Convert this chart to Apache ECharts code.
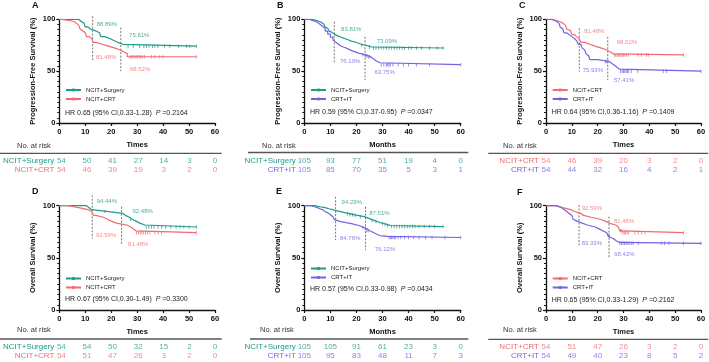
<!DOCTYPE html>
<html>
<head>
<meta charset="utf-8">
<title>KM curves</title>
<script src="https://cdn.jsdelivr.net/npm/echarts@6/dist/echarts.min.js"></script>
<style>
  html, body { margin: 0; padding: 0; background: #fff; }
  #main { width: 709px; height: 362px; }
</style>
</head>
<body>
<div id="main"></div>
<script>
var TEAL = '#1f9a88';
var RED = '#f06b6e';
var PURPLE = '#7064e4';
var FONT = 'Liberation Sans, Arial, sans-serif';

var riskTimes = [0, 10, 20, 30, 40, 50, 60];

// A - PFS, NCIT+Surgery vs NCIT+CRT
var aSurgery = [[0,100],[7.5,98.1],[8.3,96.3],[9.5,94.4],[10,92.6],[11,90.7],[12,88.9],[14,87.0],[15.5,85.2],[16,83.3],[17.5,81.5],[19.5,79.6],[21,77.8],[22.5,75.9],[24.5,74.1],[52.8,74.1]];
var aSurgeryCens = [26.5,28.5,31,32.6,33.6,34.6,35.9,36.8,38,40.5,42.6,46,49,50.3,52.8];
var aCrt = [[0,100],[1,98.1],[5.5,96.3],[6.5,94.4],[7.5,92.6],[8,90.7],[8.5,88.9],[9,87.0],[10,85.2],[10.5,83.3],[11.5,81.5],[12.5,79.6],[13,77.8],[14,75.9],[16.5,74.1],[19,72.2],[21.5,70.4],[23.5,68.5],[25,66.7],[26.2,63.9],[52.8,63.9]];
var aCrtCens = [27.2,27.8,28.4,29,29.6,30.2,30.8,31.4,32,32.8,35.5,36.8,38.7,40,52.8];
var aRiskSurgery = [54, 50, 41, 27, 14, 3, 0];
var aRiskCrt = [54, 46, 39, 19, 3, 2, 0];
var aRates = ['88.89%', '75.61%', '81.48%', '68.52%'];
var aStats = ['0.65', '0.33-1.28', '0.2164'];

// B - PFS, NCIT+Surgery vs CRT+IT
var bSurgery = [[0,100],[3,99],[4.5,98.1],[5.5,97.1],[6.5,96.2],[7,95.2],[7.5,94.3],[8,92.4],[8.5,91.4],[9,89.5],[9.5,88.6],[10,87.6],[10.5,86.7],[11,85.7],[11.5,84.8],[12,83.8],[13,82.9],[14,81.9],[15,81],[16,80],[17,79],[18,78.1],[19.5,77.1],[20.5,76.2],[21.5,75.2],[23,74.3],[24.5,73.3],[26,72.3],[53.3,72.3]];
var bSurgeryCens = [22,25,26.5,27.5,28.5,29.5,30.5,31.5,32.5,33.5,34.5,35.5,36.5,37.5,38.5,40,41,43,45,48,51,53.3];
var bCrtIt = [[0,100],[2,99],[3,98.1],[4,97.1],[5,95.2],[6,93.3],[7,91.4],[8,88.6],[9,85.7],[10,82.9],[11,80],[11.5,78.1],[12,76.2],[13,74.3],[14,73.3],[15,72.4],[16,70.5],[17.5,69.5],[18.5,68.6],[19.5,67.6],[20.5,66.7],[22,65.7],[23.5,64.8],[24.5,63.8],[25.5,61.9],[26.5,60],[27.5,58.1],[29,56.2],[60,56.2]];
var bCrtItCens = [22.5,23.5,24,24.5,25,29.5,30.5,31.5,32,32.5,33,34,36,38,40,43,48,60];
var bRiskSurgery = [105, 93, 77, 51, 19, 4, 0];
var bRiskCrtIt = [105, 85, 70, 35, 5, 3, 1];
var bRates = ['83.81%', '73.09%', '76.19%', '63.75%'];
var bStats = ['0.59', '0.37-0.95', '0.0347'];

// C - PFS, NCIT+CRT vs CRT+IT
var cCrt = [[0,100],[2.5,98.1],[5,96.3],[6.5,94.4],[7.5,92.6],[8,90.7],[8.5,88.9],[9.5,87],[10,85.2],[11,83.3],[11.8,81.5],[12.8,79.6],[13.5,77.8],[15,75.9],[17,74.1],[19,72.2],[21.5,70.4],[23.5,68.5],[25,66.7],[26,65.6],[53.2,65.6]];
var cCrtCens = [26.5,27,27.5,28,28.5,29,29.5,30,30.5,31.2,32,35.7,37,38.9,39.6,53.2];
var cCrtIt = [[0,100],[2,98.1],[4,96.3],[5,94.4],[5.5,92.6],[6,90.7],[6.5,88.9],[7,87],[8,85.2],[9,83.3],[10,81.5],[11,79.6],[11.8,77.8],[12.5,75.9],[13.5,74.1],[14,72.2],[14.5,70.4],[15,68.5],[15.5,66.7],[16,64.8],[16.5,62.9],[17,61.1],[20,59.3],[24.5,57.4],[25.5,55.6],[26.5,53.7],[27.5,51.9],[28.5,50],[60,50]];
var cCrtItCens = [23,23.5,24,28.8,29.5,30,30.5,31,31.5,32,33,35.5,45.4,46.7,60];
var cRiskCrt = [54, 46, 39, 20, 3, 2, 0];
var cRiskCrtIt = [54, 44, 32, 16, 4, 2, 1];
var cRates = ['81.48%', '68.52%', '75.93%', '57.41%'];
var cStats = ['0.64', '0.36-1.16', '0.1409'];

// D - OS, NCIT+Surgery vs NCIT+CRT
var dSurgery = [[0,100],[10.5,98.1],[11.5,96.3],[12.3,94.4],[19,92.6],[24.5,90.7],[25.5,88.9],[27,87],[28,85.2],[29.5,83.3],[31,81.5],[33,79.6],[52.8,79.6]];
var dSurgeryCens = [17.6,27.5,33.5,34.5,35.5,36.5,38,39.5,41,43,45,46.5,48,50,52.8];
var dCrt = [[0,100],[3.5,98.1],[7.5,96.3],[11,94.4],[12.5,92.6],[13.2,90.7],[14,88.9],[17,87],[18.5,85.2],[20,83.3],[22,81.5],[26,79.6],[27.5,77.8],[28.5,75.9],[29.5,74.1],[52.8,74.1]];
var dCrtCens = [29.8,30.5,31.2,31.8,32.5,33.2,34,34.9,36.8,38.1,39.4,52.8];
var dRiskSurgery = [54, 54, 50, 32, 15, 2, 0];
var dRiskCrt = [54, 51, 47, 26, 3, 2, 0];
var dRates = ['94.44%', '92.48%', '92.59%', '81.48%'];
var dStats = ['0.67', '0.30-1.49', '0.3300'];

// E - OS, NCIT+Surgery vs CRT+IT
var eSurgery = [[0,100],[4,99],[6,98.1],[8,97.1],[9.5,96.2],[11,95.2],[12,94.3],[14,93.3],[15.5,92.4],[17.5,91.4],[19,90.5],[21,89.5],[23,88.6],[24,87.6],[25,86.7],[26,85.7],[27,84.8],[28,83.8],[29,82.9],[30.5,81.9],[32,81],[33,80],[53.3,80]];
var eSurgeryCens = [16.5,17.5,18.5,19.5,21.5,26,27.5,30,31,32,33.5,34.5,35.5,36.5,37.5,38.5,39.5,40.5,41.5,42.5,44,46,48,50,53.3];
var eCrtIt = [[0,100],[2.5,99],[4,98.1],[5,97.1],[6,96.2],[7,95.2],[7.5,94.3],[8,93.3],[9,92.4],[9.5,91.4],[10,90.5],[10.5,89.5],[11,88.6],[11.5,86.7],[12,84.8],[14,83.8],[16,82.9],[18,81.9],[19.5,81],[21,80],[22,79],[23,78.1],[23.8,76.2],[25,75.2],[25.5,74.3],[26.5,73.3],[27,72.4],[28,71.4],[29,70.5],[32,69.5],[60,69.5]];
var eCrtItCens = [22.5,23.5,24,24.5,32.5,33,33.5,34,34.5,35,36,37,38.5,40,42,44,46.5,49,54,60];
var eRiskSurgery = [105, 105, 91, 61, 23, 3, 0];
var eRiskCrtIt = [105, 95, 83, 48, 11, 7, 3];
var eRates = ['94.29%', '87.51%', '84.76%', '76.12%'];
var eStats = ['0.57', '0.33-0.98', '0.0434'];

// F - OS, NCIT+CRT vs CRT+IT
var fCrt = [[0,100],[3.6,98.1],[6.5,96.3],[9.5,94.4],[11,92.6],[13.5,90.7],[14.5,88.9],[17.5,87],[21,85.2],[23,83.3],[24.5,81.5],[27,79.6],[28,77.8],[28.5,75.9],[29.5,74.1],[53.2,74.1]];
var fCrtCens = [28.8,29.3,29.8,30.3,30.8,31.4,32,34.4,35.7,37,38.3,53.2];
var fCrtIt = [[0,100],[4.3,98.1],[6,96.3],[7,94.4],[8,92.6],[9,90.7],[10,88.9],[10.5,87],[11,85.2],[12,83.3],[14,81.5],[16,79.6],[19,77.8],[20.5,75.9],[22,74.1],[23.5,72.2],[24.2,70.4],[24.8,68.5],[26,66.7],[27,64.8],[28.5,63.9],[60,63.9]];
var fCrtItCens = [24,24.5,28.6,29.2,29.8,30.4,31,31.6,32.2,33,33.7,35.7,44.6,45.9,47.6,53.2,60];
var fRiskCrt = [54, 51, 47, 26, 3, 2, 0];
var fRiskCrtIt = [54, 49, 40, 23, 8, 5, 2];
var fRates = ['92.59%', '81.48%', '83.33%', '68.42%'];
var fStats = ['0.65', '0.33-1.29', '0.2162'];

var PFS = 'Progression-Free Survival (%)';
var OS = 'Overall Survival (%)';

// layout of each panel (pixels), cut lines and note anchors in data units
var panels = [
  { letter: 'A', yName: PFS, xName: 'Times', rates: aRates, stats: aStats,
    groups: [{ name: 'NCIT+Surgery', color: TEAL, curve: aSurgery, cens: aSurgeryCens, risk: aRiskSurgery },
             { name: 'NCIT+CRT', color: RED, curve: aCrt, cens: aCrtCens, risk: aRiskCrt }],
    cuts: [[12.85, 103, 60], [23.7, 92, 50]],
    notes: [[14.4, 95.5], [26.9, 84.9], [14.1, 63], [27.2, 52]],
    box: [59.3, 19.3, 155.7, 103.7], riskTop: 156.5, letterAt: [32, 6], legendAt: [65, 87],
    hrAt: [65, 114], noRiskAt: [17, 146], sep: [0, 153.3, 221.7], riskGap: 7 },
  { letter: 'B', yName: PFS, xName: 'Months', rates: bRates, stats: bStats,
    groups: [{ name: 'NCIT+Surgery', color: TEAL, curve: bSurgery, cens: bSurgeryCens, risk: bRiskSurgery },
             { name: 'CRT+IT', color: PURPLE, curve: bCrtIt, cens: bCrtItCens, risk: bRiskCrtIt }],
    cuts: [[11.5, 97.7, 57.6], [23.3, 83.2, 41.5]],
    notes: [[14.1, 90.6], [27.8, 78.4], [13.7, 59.1], [26.9, 48.5]],
    box: [304.3, 19.3, 156.4, 103.7], riskTop: 156.5, letterAt: [277, 6], legendAt: [310, 87],
    hrAt: [310, 113.3], noRiskAt: [262, 146], sep: [248, 152.5, 468.3], riskGap: 8.5 },
  { letter: 'C', yName: PFS, xName: 'Times', rates: cRates, stats: cStats,
    groups: [{ name: 'NCIT+CRT', color: RED, curve: cCrt, cens: cCrtCens, risk: cRiskCrt },
             { name: 'CRT+IT', color: PURPLE, curve: cCrtIt, cens: cCrtItCens, risk: cRiskCrtIt }],
    cuts: [[12.9, 91.3, 49.5], [23.9, 83.2, 41.5]],
    notes: [[14.8, 88], [27.4, 77.4], [14.2, 50.4], [26.3, 41.5]],
    box: [546, 19.3, 155, 103.7], riskTop: 156.5, letterAt: [519, 6], legendAt: [551.7, 87],
    hrAt: [551.7, 113.3], noRiskAt: [503, 146], sep: [488.3, 153.3, 708.3], riskGap: 7 },
  { letter: 'D', yName: OS, xName: 'Times', rates: dRates, stats: dStats,
    groups: [{ name: 'NCIT+Surgery', color: TEAL, curve: dSurgery, cens: dSurgeryCens, risk: dRiskSurgery },
             { name: 'NCIT+CRT', color: RED, curve: dCrt, cens: dCrtCens, risk: dRiskCrt }],
    cuts: [[12.7, 110, 68.7], [24, 99, 62.3]],
    notes: [[14.4, 103.8], [28.2, 94.2], [14.1, 71.9], [26.5, 63.3]],
    box: [59.3, 205.7, 155.7, 104.3], riskTop: 342.2, letterAt: [32, 192], legendAt: [65, 275.5],
    hrAt: [65, 300], noRiskAt: [17, 330.7], sep: [0, 339, 221.7], riskGap: 7 },
  { letter: 'E', yName: OS, xName: 'Months', rates: eRates, stats: eStats,
    groups: [{ name: 'NCIT+Surgery', color: TEAL, curve: eSurgery, cens: eSurgeryCens, risk: eRiskSurgery },
             { name: 'CRT+IT', color: PURPLE, curve: eCrtIt, cens: eCrtItCens, risk: eRiskCrtIt }],
    cuts: [[12, 108.6, 67.1], [23.5, 99, 57.5]],
    notes: [[14.3, 102.9], [24.9, 92.7], [13.7, 68.7], [27.1, 58.5]],
    box: [304.3, 205.7, 156.4, 104.3], riskTop: 342.2, letterAt: [276, 192], legendAt: [310, 265.5],
    hrAt: [310, 290], noRiskAt: [260, 330.7], sep: [250, 339, 468.3], riskGap: 8.5 },
  { letter: 'F', yName: OS, xName: 'Times', rates: fRates, stats: fStats,
    groups: [{ name: 'NCIT+CRT', color: RED, curve: fCrt, cens: fCrtCens, risk: fRiskCrt },
             { name: 'CRT+IT', color: PURPLE, curve: fCrtIt, cens: fCrtItCens, risk: fRiskCrtIt }],
    cuts: [[12.8, 100.7, 60.7], [24.4, 89.5, 49.6]],
    notes: [[13.8, 97.5], [26.3, 84.7], [13.8, 63.9], [26.4, 53.4]],
    box: [546, 205.7, 155, 104.3], riskTop: 342.2, letterAt: [517, 193], legendAt: [551.7, 275.5],
    hrAt: [551.7, 301], noRiskAt: [503, 330.7], sep: [488.3, 339.3, 708.3], riskGap: 7 }
];

// survival value of a step curve at time t
function stepAt(curve, t) {
  var v = curve[0][1];
  for (var i = 0; i < curve.length; i++) {
    if (curve[i][0] <= t) v = curve[i][1];
  }
  return v;
}

var option = {
  animation: false,
  backgroundColor: '#fff',
  textStyle: { fontFamily: FONT },
  grid: [], xAxis: [], yAxis: [], series: [], legend: [], graphic: []
};

panels.forEach(function (p, i) {
  var g = i * 2;
  var boldText = { fontFamily: FONT, fontWeight: 'bold', fontSize: 7.5, color: '#111' };

  option.grid.push({ left: p.box[0], top: p.box[1], width: p.box[2], height: p.box[3] });
  option.grid.push({ left: p.box[0], top: p.riskTop, width: p.box[2], height: 18 });

  option.xAxis.push({
    gridIndex: g, type: 'value', min: 0, max: 60, interval: 10,
    name: p.xName, nameLocation: 'middle', nameGap: 18, nameTextStyle: boldText,
    axisLine: { onZero: false, lineStyle: { color: '#111', width: 1.3 } },
    axisTick: { length: 3, lineStyle: { color: '#111', width: 1.2 } },
    axisLabel: Object.assign({ margin: 5 }, boldText),
    splitLine: { show: false }
  });
  option.yAxis.push({
    gridIndex: g, type: 'value', min: 0, max: 100, interval: 50,
    name: p.yName, nameLocation: 'middle', nameGap: 22, nameTextStyle: boldText,
    axisLine: { show: true, onZero: false, lineStyle: { color: '#111', width: 1.3 } },
    axisTick: { show: true, length: 3, lineStyle: { color: '#111', width: 1.2 } },
    minorTick: { show: true, splitNumber: 10, length: 2, lineStyle: { color: '#111', width: 1 } },
    axisLabel: Object.assign({ margin: 4 }, boldText),
    splitLine: { show: false }
  });

  option.xAxis.push({ gridIndex: g + 1, type: 'value', min: 0, max: 60, show: false });
  option.yAxis.push({
    gridIndex: g + 1, type: 'category', inverse: true,
    data: p.groups.map(function (gr) { return gr.name; }),
    axisLine: { show: false }, axisTick: { show: false },
    axisLabel: {
      interval: 0, margin: p.riskGap, fontSize: 8, fontFamily: FONT,
      color: function (v, idx) { return p.groups[idx].color; }
    }
  });

  p.groups.forEach(function (gr, k) {
    option.series.push({
      type: 'line', name: gr.name, xAxisIndex: g, yAxisIndex: g,
      data: gr.curve, step: 'end', showSymbol: false,
      symbol: 'rect', symbolSize: 3,
      lineStyle: { color: gr.color, width: 1.2 }, itemStyle: { color: gr.color },
      z: 3, silent: true
    });
    option.series.push({
      type: 'scatter', name: p.letter + ' censored ' + k, xAxisIndex: g, yAxisIndex: g,
      data: gr.cens.map(function (t) { return [t, stepAt(gr.curve, t)]; }),
      symbol: 'rect', symbolSize: [0.9, 3.5],
      itemStyle: { color: gr.color }, z: 4, silent: true
    });
    option.series.push({
      type: 'scatter', name: p.letter + ' at risk ' + k, xAxisIndex: g + 1, yAxisIndex: g + 1,
      data: riskTimes.map(function (t, j) { return [t, k, gr.risk[j]]; }),
      symbolSize: 0, silent: true,
      label: {
        show: true, position: 'inside', fontSize: 8, fontFamily: FONT, color: gr.color,
        formatter: function (params) { return params.value[2]; }
      }
    });
  });

  p.cuts.forEach(function (c, k) {
    option.series.push({
      type: 'line', name: p.letter + ' cut ' + k, xAxisIndex: g, yAxisIndex: g,
      data: [[c[0], c[1]], [c[0], c[2]]], symbol: 'none', clip: false, silent: true,
      lineStyle: { color: '#666', width: 0.9, type: [2, 1.5] }, z: 2
    });
  });

  option.series.push({
    type: 'scatter', name: p.letter + ' notes', xAxisIndex: g, yAxisIndex: g,
    symbolSize: 0, silent: true, clip: false,
    data: p.notes.map(function (n, k) {
      return { value: [n[0], n[1], k], label: { color: p.groups[k < 2 ? 0 : 1].color } };
    }),
    label: {
      show: true, position: 'right', distance: 0, fontSize: 6, fontFamily: FONT,
      formatter: function (params) { return p.rates[params.value[2]]; }
    }
  });

  option.legend.push({
    data: p.groups.map(function (gr) { return gr.name; }),
    orient: 'vertical', left: p.legendAt[0], top: p.legendAt[1],
    padding: 0, itemWidth: 15, itemHeight: 3.5, itemGap: 3, selectedMode: false,
    textStyle: { fontSize: 6, fontFamily: FONT, color: '#222' }
  });

  option.graphic.push({
    type: 'text', left: p.letterAt[0], top: p.letterAt[1] - 5,
    style: { text: p.letter, font: 'bold 9px ' + FONT, fill: '#111' }
  });
  option.graphic.push({
    type: 'text', left: p.hrAt[0], top: p.hrAt[1] - 4.5,
    style: {
      text: 'HR ' + p.stats[0] + ' (95% CI,' + p.stats[1] + ')  {i|P} =' + p.stats[2],
      font: '7px ' + FONT, fill: '#222',
      rich: { i: { fontStyle: 'italic', fontSize: 7, fontFamily: FONT, fill: '#222' } }
    }
  });
  option.graphic.push({
    type: 'text', left: p.noRiskAt[0], top: p.noRiskAt[1] - 4.5,
    style: { text: 'No. at risk', font: '7.5px ' + FONT, fill: '#333' }
  });
  option.graphic.push({
    type: 'line',
    shape: { x1: p.sep[0], y1: p.sep[1], x2: p.sep[2], y2: p.sep[1] },
    style: { stroke: '#555', lineWidth: 1.3 }
  });
});

var chart = echarts.init(document.getElementById('main'), null, { renderer: 'canvas' });
chart.setOption(option);
</script>
</body>
</html>
